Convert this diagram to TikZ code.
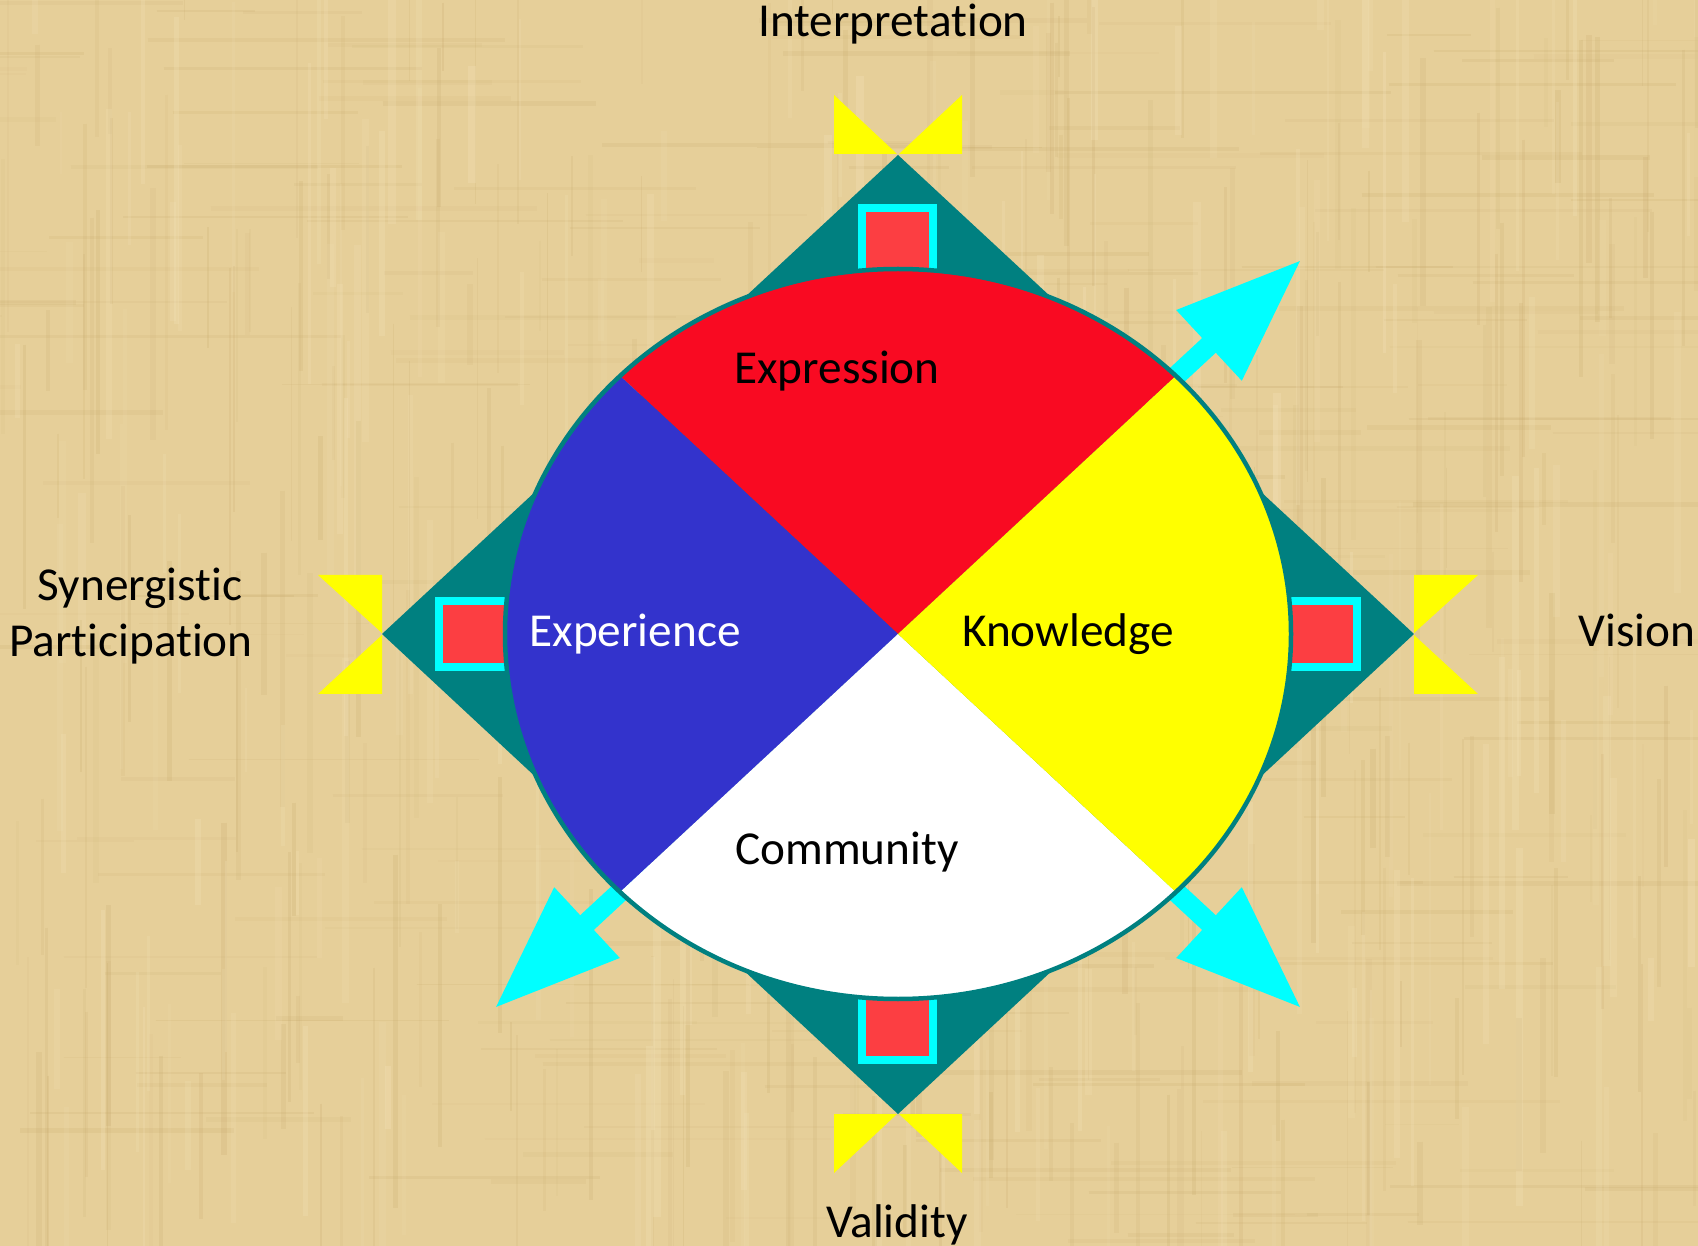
\documentclass[tikz,border=0pt]{standalone}
\usepackage{fontspec}
\setmainfont{Carlito}[Ligatures=NoCommon]
\definecolor{paper}{RGB}{230,207,153}
\definecolor{paperdark}{RGB}{196,166,104}
\definecolor{paperlight}{RGB}{246,230,190}
\definecolor{diamondteal}{RGB}{0,128,128}
\definecolor{sectred}{RGB}{249,10,34}
\definecolor{sectblue}{RGB}{51,51,204}
\definecolor{sectyellow}{RGB}{255,255,0}
\definecolor{boxred}{RGB}{252,62,66}
\definecolor{arrowcyan}{RGB}{0,255,255}
\tikzset{
  label/.style={font=\fontsize{26.9}{32}\selectfont, inner sep=0pt, anchor=base},
  bowtie/.style={fill=sectyellow},
  frame/.style={fill=arrowcyan},
  inbox/.style={fill=boxred},
  cyanarrow/.style={fill=arrowcyan},
}
\begin{document}
\begin{tikzpicture}[x=0.02cm, y=-0.02cm]
  % paper background
  \fill[paper] (0,0) rectangle (1698,1246);
  \useasboundingbox (0,0) rectangle (1698,1246);
  \begin{scope}
    \clip (0,0) rectangle (1698,1246);
    \pgfmathsetseed{17}
    \foreach \i in {1,...,320}{
      \pgfmathsetmacro\xx{rnd*1698}
      \pgfmathsetmacro\yy{rnd*1246-100}
      \pgfmathsetmacro\ll{60+rnd*300}
      \pgfmathsetmacro\ww{(1+rnd*5)*0.02}
      \pgfmathsetmacro\op{0.06+rnd*0.14}
      \draw[paperdark, line width=\ww cm, opacity=\op] (\xx,\yy) -- ++(0,\ll);
    }
    \foreach \i in {1,...,260}{
      \pgfmathsetmacro\xx{rnd*1698-100}
      \pgfmathsetmacro\yy{rnd*1246}
      \pgfmathsetmacro\ll{60+rnd*300}
      \pgfmathsetmacro\ww{(1+rnd*4)*0.02}
      \pgfmathsetmacro\op{0.05+rnd*0.12}
      \draw[paperdark, line width=\ww cm, opacity=\op] (\xx,\yy) -- ++(\ll,0);
    }
    \foreach \i in {1,...,220}{
      \pgfmathsetmacro\xx{rnd*1698}
      \pgfmathsetmacro\yy{rnd*1246-100}
      \pgfmathsetmacro\ll{60+rnd*300}
      \pgfmathsetmacro\ww{(2+rnd*6)*0.02}
      \pgfmathsetmacro\op{0.08+rnd*0.18}
      \draw[paperlight, line width=\ww cm, opacity=\op] (\xx,\yy) -- ++(0,\ll);
    }
  \end{scope}

  % teal diamond
  \fill[diamondteal] (898,155) -- (1414,634) -- (898,1114) -- (382,634) -- cycle;

  % yellow bow ties at the four corners
  \fill[bowtie] (834,95) -- (834,154) -- (897,154) -- cycle;
  \fill[bowtie] (962,95) -- (962,154) -- (899,154) -- cycle;
  \fill[bowtie] (834,1114) -- (897,1114) -- (834,1173) -- cycle;
  \fill[bowtie] (962,1114) -- (899,1114) -- (962,1173) -- cycle;
  \fill[bowtie] (318,575) -- (382,575) -- (382,633) -- cycle;
  \fill[bowtie] (318,694) -- (382,694) -- (382,635) -- cycle;
  \fill[bowtie] (1478,575) -- (1414,575) -- (1414,633) -- cycle;
  \fill[bowtie] (1478,694) -- (1414,694) -- (1414,635) -- cycle;

  % framed red squares
  \fill[frame] (858,204) rectangle (937,300);
  \fill[inbox] (865.7,211.7) rectangle (929.3,300);
  \fill[frame] (858,968) rectangle (937,1064);
  \fill[inbox] (865.7,968) rectangle (929.3,1056.3);
  \fill[frame] (435,597) rectangle (530,671);
  \fill[inbox] (442.7,604.7) rectangle (530,663.3);
  \fill[frame] (1266,597) rectangle (1361,671);
  \fill[inbox] (1266,604.7) rectangle (1353.3,663.3);

  % cyan arrows leaving the wheel
  \foreach \px/\py/\ang in {1176/376/42.85, 1176/892/-42.85, 620/892/222.85}{
    \begin{scope}[shift={(\px,\py)}, rotate=\ang]
      \fill[cyanarrow] (-40,-10) -- (45,-10) -- (45,-48.25) -- (169,0)
        -- (45,48.25) -- (45,10) -- (-40,10) -- cycle;
    \end{scope}
  }

  % four-part wheel
  \coordinate (C) at (898,634);
  \fill[sectred] (C) -- ++(225:393 and 365) arc[start angle=225, end angle=315, x radius=393, y radius=365] -- cycle;
  \fill[sectblue] (C) -- ++(135:393 and 365) arc[start angle=135, end angle=225, x radius=393, y radius=365] -- cycle;
  \fill[white] (C) -- ++(45:393 and 365) arc[start angle=45, end angle=135, x radius=393, y radius=365] -- cycle;
  \fill[sectyellow] (C) -- ++(-45:393 and 365) arc[start angle=-45, end angle=45, x radius=393, y radius=365] -- cycle;
  \draw[diamondteal, line width=0.09cm] (C) ellipse [x radius=393, y radius=365];

  % labels
  \node[label] (expr) at (837,384) {Expression};
  \node[label, text=white] (expe) at (635,647) {Experience};
  \node[label] (know) at (1068,647) {Knowledge};
  \node[label] (comm) at (847,864) {Community};
  \node[label] (interp) at (893,37) {Interpretation};
  \node[label] (valid) at (897,1237) {Validity};
  \node[label] (vision) at (1637,647) {Vision};
  \node[label] (syn1) at (140,601) {Synergistic};
  \node[label] (syn2) at (131,657) {Participation};
\end{tikzpicture}
\end{document}
